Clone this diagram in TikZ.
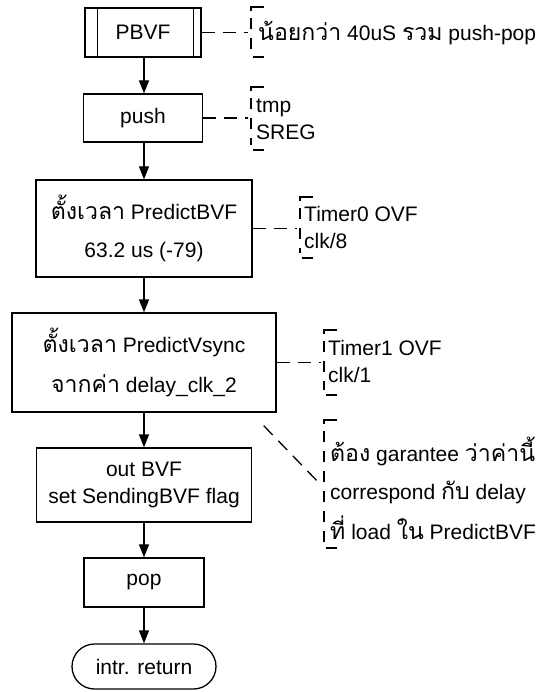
\documentclass[tikz,border=0pt]{standalone}
\usepackage{fontspec}
\setmainfont{Liberation Sans}
\newfontfamily\thaifont[Script=Thai,Scale=1.1]{Loma}
\usetikzlibrary{arrows.meta}
\newcommand\thtext[1]{{\thaifont #1}}
% dashed bracket of an annotation: top and bottom end coordinates
\newcommand\notebracket[2]{%
  \draw[tick] ([xshift=13pt]#1) -- (#1) -- ([yshift=-4pt]#1);
  \draw[vdash] ([yshift=-11pt]#1) -- ([yshift=5pt]#2);
  \draw[tick] ([xshift=2pt]#2) -- ([xshift=13pt]#2);
}
\begin{document}
\begin{tikzpicture}[x=1pt,y=1pt,
  every node/.style={font=\fontsize{21}{27}\selectfont, inner sep=0pt},
  box/.style={draw, line width=1.3pt, align=center},
  flow/.style={-{Triangle[length=13pt,width=10pt]}, line width=1.3pt},
  note/.style={line width=1.3pt, dash pattern=on 13pt off 8pt},
  tick/.style={line width=1.3pt},
  vdash/.style={line width=1.3pt, dash pattern=on 11pt off 9pt},
  notetext/.style={anchor=west, align=left},
]
\useasboundingbox (0,0) rectangle (538,-692);

% main flow
\node[box, minimum width=116pt, minimum height=49pt] (pbvf) at (143,-32.5) {PBVF};
\draw[tick] ([xshift=13pt]pbvf.north west) -- ([xshift=13pt]pbvf.south west);
\draw[tick] ([xshift=-8pt]pbvf.north east) -- ([xshift=-8pt]pbvf.south east);

\node[box, minimum width=119pt, minimum height=48pt] (push) at (143,-118) {push};

\node[box, minimum width=216pt, minimum height=97pt] (set1) at (144,-228.5)
  {\thtext{ตั้งเวลา} PredictBVF\\[11pt] 63.2 us (-79)};

\node[box, minimum width=264pt, minimum height=99pt] (set2) at (144,-362.5)
  {\thtext{ตั้งเวลา} PredictVsync\\[13pt] \thtext{จากค่า} delay\_clk\_2};

\node[box, minimum width=215pt, minimum height=74pt] (out) at (144,-485)
  {out BVF\\ set SendingBVF flag};

\node[box, minimum width=120pt, minimum height=49pt] (pop) at (144,-582.5) {pop};

\node[box, rounded corners=22.5pt, minimum width=144pt, minimum height=45pt] (ret) at (144,-666.5) {intr. return};

\draw[flow] (pbvf.south -| 144,0) -- (push.north -| 144,0);
\draw[flow] (push.south -| 144,0) -- (set1.north);
\draw[flow] (set1) -- (set2);
\draw[flow] (set2) -- (out);
\draw[flow] (out) -- (pop);
\draw[flow] (pop) -- (ret);

% annotations
\coordinate (b1t) at (251,-7);   \coordinate (b1b) at (251,-57);
\coordinate (b2t) at (251,-87);  \coordinate (b2b) at (251,-150);
\coordinate (b3t) at (300,-197); \coordinate (b3b) at (300,-258);
\coordinate (b4t) at (324,-330); \coordinate (b4b) at (324,-395);
\coordinate (b5t) at (324,-420); \coordinate (b5b) at (324,-548);

\notebracket{b1t}{b1b}
\notebracket{b2t}{b2b}
\notebracket{b3t}{b3b}
\notebracket{b4t}{b4b}
\notebracket{b5t}{b5b}

\node[notetext] (n1) at (258,-33) {\thtext{น้อยกว่า} 40uS \thtext{รวม} push-pop};
\node[notetext] (n2) at (256,-119) {tmp\\SREG};
\node[notetext] (n3) at (304,-227.5) {Timer0 OVF\\clk/8};
\node[notetext] (n4) at (328,-361) {Timer1 OVF\\clk/1};
\node[notetext] (n5) at (330,-488)
  {\thtext{ต้อง} garantee \thtext{ว่าค่านี้}\\[11pt] correspond \thtext{กับ} delay\\[11pt] \thtext{ที่} load \thtext{ใน} PredictBVF};

\coordinate (d5) at (321,-485);
\draw[note] (pbvf.east) -- ([xshift=-3pt]pbvf.east -| b1t);
\draw[note] (push.east) -- ([xshift=-3pt]push.east -| b2t);
\draw[note] (set1.east) -- ([xshift=-3pt]set1.east -| b3t);
\draw[note] (set2.east) -- ([xshift=-3pt]set2.east -| b4t);
\draw[note] ([shift={(-13pt,-13pt)}]set2.south east) -- (d5);
\end{tikzpicture}
\end{document}
